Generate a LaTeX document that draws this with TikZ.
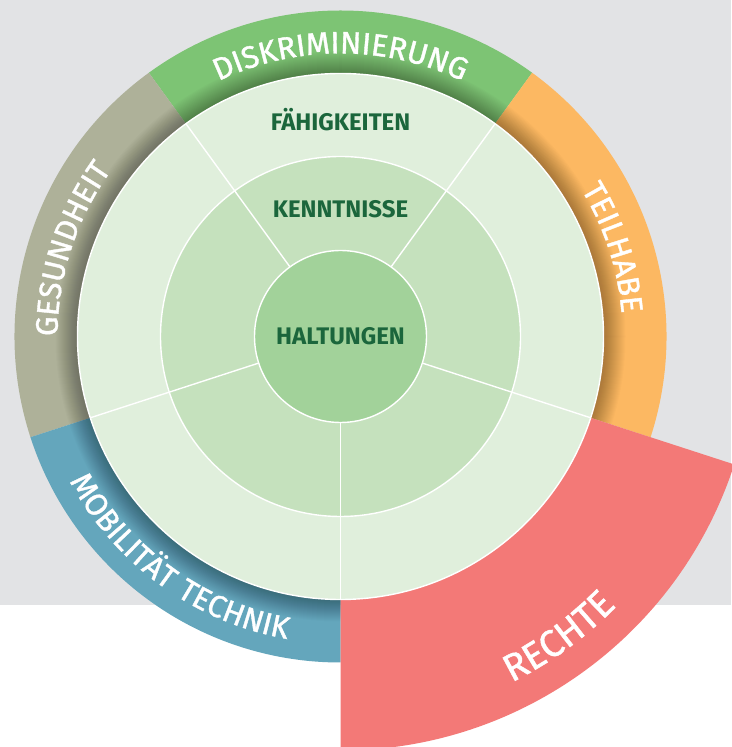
\documentclass[tikz,border=0pt]{standalone}
\usepackage{fontspec}
\setmainfont{Fira Sans}
\newfontfamily\ringfont[LetterSpace=7,FakeBold=1.2]{Fira Sans}
\newfontfamily\bigringfont[LetterSpace=9,FakeBold=1.2]{Fira Sans}
\usetikzlibrary{decorations.text}
\definecolor{bggray}{HTML}{E2E3E5}
\definecolor{ringgreen}{HTML}{7DC474}
\definecolor{ringgray}{HTML}{AEB199}
\definecolor{ringblue}{HTML}{64A6BC}
\definecolor{ringorange}{HTML}{FCB862}
\definecolor{ringred}{HTML}{F37977}
\definecolor{disklight}{HTML}{E0EFDC}
\definecolor{diskmid}{HTML}{C5E1BD}
\definecolor{diskinner}{HTML}{A2D29A}
\definecolor{labelgreen}{HTML}{1B663C}
\tikzset{
  innerlabel/.style={anchor=base, text=labelgreen, font=\fontsize{24}{24}\selectfont\bfseries, inner sep=0pt},
  ringlabel/.style={decorate, decoration={text along path, text align=center, text color=white, text={#1}}},
  sepline/.style={white, line width=1.4pt},
}
\begin{document}
\begin{tikzpicture}[x=1pt,y=1pt]
\useasboundingbox (0,0) rectangle (731,747);
\fill[white] (0,0) rectangle (731,747);
\fill[bggray] (0,142) rectangle (731,747);
\begin{scope}[shift={(340.5,410.5)}]
  % outer ring sectors
  \fill[ringgreen]  (0,0) -- (54:326)  arc[start angle=54,  end angle=126, radius=326] -- cycle;
  \fill[ringgray]   (0,0) -- (126:326) arc[start angle=126, end angle=198, radius=326] -- cycle;
  \fill[ringblue]   (0,0) -- (198:326) arc[start angle=198, end angle=270, radius=326] -- cycle;
  \fill[ringorange] (0,0) -- (-18:326) arc[start angle=-18, end angle=54,  radius=326] -- cycle;
  % inner shadow on the ring
  \begin{scope}
    \clip (0,0) -- (-18:330) arc[start angle=-18, end angle=270, radius=330] -- cycle;
    \foreach \k in {1,...,22} {
      \fill[black, opacity=0.014, even odd rule] (0,0) circle[radius=263] circle[radius=263+\k];
    }
  \end{scope}
  % red sector
  \fill[ringred] (0,0) -- (270:414) arc[start angle=270, end angle=342, radius=414] -- cycle;
  % disks
  \fill[disklight] (0,0) circle[radius=263];
  \fill[diskmid] (0,0) circle[radius=180];
  \fill[diskinner] (0,0) circle[radius=86];
  \draw[sepline] (0,0) circle[radius=263];
  \draw[sepline] (0,0) circle[radius=180];
  \draw[sepline] (0,0) circle[radius=86];
  \foreach \a in {54,126,198,270,342} {
    \draw[sepline] (\a:86) -- (\a:263);
  }
  % inner labels
  \node[innerlabel] (haltungen) at (0,-8.5) {HALTUNGEN};
  \node[innerlabel] (kenntnisse) at (0,119) {KENNTNISSE};
  \node[innerlabel] (faehigkeiten) at (0,205.8) {FÄHIGKEITEN};
  % ring labels
  \path[ringlabel={|\ringfont\fontsize{31}{31}\selectfont|DISKRIMINIERUNG}]
    (160:283) arc[start angle=160, end angle=20, radius=283];
  \path[ringlabel={|\ringfont\fontsize{31}{31}\selectfont|GESUNDHEIT}]
    (205:283) arc[start angle=205, end angle=119, radius=283];
  \path[ringlabel={|\ringfont\fontsize{31}{31}\selectfont|TEILHABE}]
    (61:282) arc[start angle=61, end angle=-25, radius=282];
  \path[ringlabel={|\ringfont\fontsize{31}{31}\selectfont|MOBILITÄT TECHNIK}]
    (190:307) arc[start angle=190, end angle=278, radius=307];
  \path[ringlabel={|\bigringfont\fontsize{38}{38}\selectfont|RECHTE}]
    (272:386) arc[start angle=272, end angle=340, radius=386];
\end{scope}
\end{tikzpicture}
\end{document}
